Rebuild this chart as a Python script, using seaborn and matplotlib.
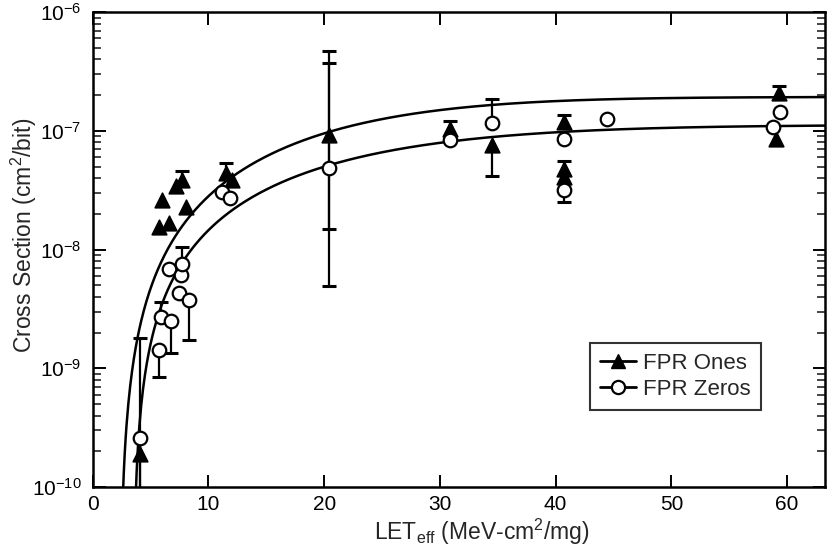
import numpy as np
import pandas as pd
import matplotlib
matplotlib.use("Agg")
import matplotlib.pyplot as plt
from matplotlib.lines import Line2D
import seaborn as sns

# FPR Ones (filled triangles): LET, cross section, error bar bounds (nan = none)
ones_let = [4.1, 5.75, 6.0, 6.6, 7.2, 7.75, 8.05, 11.5, 12.0, 20.45,
            30.9, 34.5, 40.7, 40.7, 40.7, 59.3, 59.0]
ones_xs = [1.9e-10, 1.55e-8, 2.6e-8, 1.66e-8, 3.4e-8, 3.85e-8, 2.3e-8, 4.4e-8, 3.85e-8, 9.3e-8,
           1.04e-7, 7.6e-8, 1.19e-7, 4.8e-8, 4.1e-8, 2.07e-7, 8.6e-8]
ones_lo = [5e-11, np.nan, np.nan, np.nan, np.nan, np.nan, np.nan, np.nan, np.nan, 1.5e-8,
           np.nan, 4.2e-8, np.nan, np.nan, np.nan, np.nan, np.nan]
ones_hi = [1.8e-9, np.nan, np.nan, np.nan, np.nan, 4.6e-8, np.nan, 5.4e-8, np.nan, 4.66e-7,
           1.2e-7, np.nan, 1.35e-7, 5.6e-8, np.nan, 2.4e-7, np.nan]

# FPR Zeros (open circles)
zeros_let = [4.1, 5.75, 5.9, 6.6, 6.75, 7.45, 7.6, 7.75, 8.35, 11.2,
             11.9, 20.4, 30.9, 34.5, 40.7, 40.7, 44.4, 59.4, 58.8]
zeros_xs = [2.6e-10, 1.43e-9, 2.7e-9, 6.8e-9, 2.5e-9, 4.3e-9, 6.1e-9, 7.6e-9, 3.76e-9, 3.07e-8,
            2.7e-8, 4.9e-8, 8.35e-8, 1.16e-7, 8.6e-8, 3.16e-8, 1.25e-7, 1.45e-7, 1.08e-7]
zeros_lo = [5e-11, 8.5e-10, np.nan, np.nan, 1.35e-9, np.nan, np.nan, np.nan, 1.74e-9, np.nan,
            np.nan, 4.9e-9, np.nan, np.nan, np.nan, 2.5e-8, np.nan, np.nan, np.nan]
zeros_hi = [np.nan, np.nan, 3.6e-9, np.nan, np.nan, np.nan, np.nan, 1.05e-8, np.nan, np.nan,
            np.nan, 3.7e-7, np.nan, 1.87e-7, np.nan, np.nan, np.nan, np.nan, np.nan]

# Weibull fit parameters: saturation, threshold LET, width, shape
ones_fit = (1.93e-7, 2.35, 22.0, 1.75)
zeros_fit = (1.122e-7, 3.50, 23.23, 1.55)

x_ticks = [0, 10, 20, 30, 40, 50, 60]
y_ticks = [1e-10, 1e-9, 1e-8, 1e-7, 1e-6]
y_tick_labels = [r"$10^{-10}$", r"$10^{-9}$", r"$10^{-8}$", r"$10^{-7}$", r"$10^{-6}$"]

sns.set_style("ticks")
plt.rcParams["font.family"] = ["Liberation Sans", "DejaVu Sans"]
plt.rcParams["mathtext.fontset"] = "custom"
plt.rcParams["mathtext.rm"] = "Liberation Sans"
plt.rcParams["mathtext.it"] = "Liberation Sans:italic"

fig, ax = plt.subplots(figsize=(8.27, 5.51), dpi=100)
fig.subplots_adjust(left=0.112, right=0.998, top=0.978, bottom=0.116)
ax.set_yscale("log")
ax.set_xlim(0, 63.3)
ax.set_ylim(1e-10, 1e-6)


def weibull(let, p):
    a, l0, w, s = p
    d = np.clip(np.asarray(let) - l0, 0, None)
    return a * (1 - np.exp(-(d / w) ** s))


let_grid = np.linspace(0, 63.3, 800)
for p in (ones_fit, zeros_fit):
    curve = pd.DataFrame({"let": let_grid, "xs": np.clip(weibull(let_grid, p), 1e-12, None)})
    sns.lineplot(data=curve, x="let", y="xs", color="black", linewidth=1.8, ax=ax, zorder=2)


def draw_errors(let, val, lo, hi):
    let = np.asarray(let); val = np.asarray(val)
    lo = np.asarray(lo); hi = np.asarray(hi)
    for bound in (lo, hi):
        m = np.isfinite(bound)
        ax.vlines(let[m], val[m], bound[m], color="black", linewidth=1.6, zorder=3)
        ax.plot(let[m], bound[m], linestyle="none", marker="_", markersize=10,
                markeredgewidth=2.2, color="black", zorder=3)


draw_errors(ones_let, ones_xs, ones_lo, ones_hi)
draw_errors(zeros_let, zeros_xs, zeros_lo, zeros_hi)

ones_df = pd.DataFrame({"let": ones_let, "xs": ones_xs})
zeros_df = pd.DataFrame({"let": zeros_let, "xs": zeros_xs})
sns.scatterplot(data=ones_df, x="let", y="xs", marker="^", s=110, color="black",
                edgecolor="black", linewidth=1.2, ax=ax, zorder=5)
sns.scatterplot(data=zeros_df, x="let", y="xs", marker="o", s=95, color="white",
                edgecolor="black", linewidth=1.6, ax=ax, zorder=6)

# axes styling
for sp in ax.spines.values():
    sp.set_linewidth(1.8)
    sp.set_color("black")
ax.set_xticks(x_ticks)
ax.tick_params(axis="both", which="major", direction="in", length=9, width=1.4,
               top=True, right=True, labelsize=15, colors="black")
ax.tick_params(axis="x", which="major", pad=6)
ax.tick_params(axis="y", which="major", pad=8)
ax.tick_params(axis="y", which="minor", direction="in", length=6, width=1.2,
               left=True, right=True)
ax.tick_params(axis="x", which="minor", bottom=False, top=False)
ax.yaxis.set_minor_locator(matplotlib.ticker.LogLocator(base=10, subs=np.arange(2, 10), numticks=20))
ax.set_yticks(y_ticks)
ax.set_yticklabels(y_tick_labels)

ax.set_xlabel(r"LET$_{\mathrm{eff}}$ (MeV-cm$^{2}$/mg)", fontsize=16.5)
ax.set_ylabel(r"Cross Section (cm$^{2}$/bit)", fontsize=16.5)
ax.xaxis.set_label_coords(0.531, -0.062)
ax.yaxis.set_label_coords(-0.073, 0.53)

handles = [
    Line2D([], [], color="black", linewidth=2, marker="^", markersize=10,
           markerfacecolor="black", markeredgecolor="black"),
    Line2D([], [], color="black", linewidth=2, marker="o", markersize=9.5,
           markerfacecolor="white", markeredgecolor="black", markeredgewidth=1.6),
]
leg = ax.legend(handles, ["FPR Ones", "FPR Zeros"], loc="upper left",
                bbox_to_anchor=(0.679, 0.303), frameon=True, fancybox=False,
                edgecolor="black", fontsize=16, handlelength=1.6, handletextpad=0.35,
                borderpad=0.45, labelspacing=0.2, borderaxespad=0)
leg.get_frame().set_linewidth(1.5)

fig.savefig("out.png", dpi=100)
